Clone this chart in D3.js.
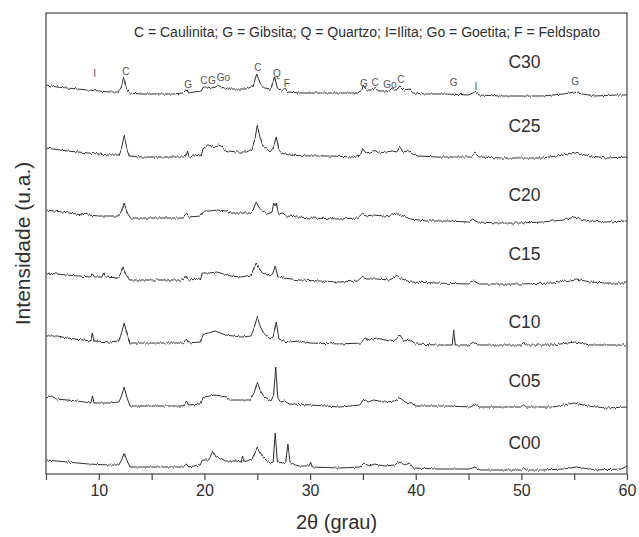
<!DOCTYPE html>
<html><head><meta charset="utf-8">
<script src="https://cdn.jsdelivr.net/npm/d3@7"></script>
<style>body{margin:0;background:#fff}svg{display:block}</style>
</head><body><svg id="chart" width="639" height="537"></svg>
<script>
// ---- data (2θ in degrees, intensity in arbitrary units) ----
const seriesNames = ["C00","C05","C10","C15","C20","C25","C30"];
const seriesOffsets = [0,63,125,186,248,313,374];

const c00 = [[5,14],[6,13],[7,12],[9,10],[11,9],[11.9,9],[12.15,14],[12.4,21],[12.65,14],[12.95,7],[15,7],[18,7],[18.3,10],[18.5,7],[19.6,9],[19.8,14],[20.4,14],[20.8,23],[21.1,17],[21.5,16],[22,13],[23,13],[23.45,12],[23.6,18],[23.75,12],[24.5,15],[24.8,22],[25,27],[25.3,21],[25.6,16],[26.2,11],[26.5,12],[26.7,41],[26.9,12],[27.4,11],[27.7,12],[27.9,30],[28.1,12],[28.6,9],[29,8],[29.9,8],[30.05,12],[30.2,7],[32.8,6],[34.7,7],[35.1,11],[35.6,8],[36.1,10],[37,8],[38,9],[38.4,12],[39,9],[39.4,11],[39.8,6],[42,5],[45.1,5],[45.6,7],[46.1,4],[50,4],[50.2,6],[50.5,4],[52,4],[54,5],[55.2,7],[57,4],[59.5,5],[60,8]];
const c05 = [[5,13],[5.5,15],[6,12],[8,10],[9.25,8],[9.4,15],[9.55,8],[11,8],[11.9,9],[12.15,15],[12.4,24],[12.65,14],[12.95,5],[15,5],[18,5],[18.3,10],[18.5,6],[19.6,7],[19.9,14],[20.5,15],[21,16],[21.6,15],[22.1,14],[22.4,11],[24.3,11],[24.7,18],[25,29],[25.3,20],[25.6,15],[26.3,10],[26.55,16],[26.75,44],[26.95,13],[27.2,9],[27.6,10],[28,7],[30,6],[32.8,4],[34.7,6],[35.1,12],[35.5,9],[36,11],[37,9],[38,10],[38.5,13],[39,9],[39.6,8],[40,5],[43,5],[45.2,4],[45.6,7],[46,4],[50,4],[50.2,6],[50.5,4],[53,4],[55,8],[56.3,5],[58,3],[60,4]];
const c10 = [[5,13],[6.1,13],[7,11],[8.5,9],[9.25,8],[9.4,16],[9.55,8],[11,7],[11.9,8],[12.15,16],[12.4,26],[12.65,16],[12.95,6],[15,6],[18,6],[18.3,10],[18.5,6],[19.6,7],[19.9,15],[20.4,16],[21,18],[21.5,16],[22,14],[23.5,12],[24.4,13],[24.7,21],[25,32],[25.3,22],[25.6,16],[26.2,10],[26.5,12],[26.8,27],[27.05,10],[27.5,8],[28,7],[29,8],[30,6],[32.8,5],[34.8,6],[35.2,11],[35.6,9],[36.3,11],[37.5,8],[38.1,9],[38.5,14],[38.9,8],[39.5,9],[40,5],[42,4],[43.45,4],[43.6,19],[43.75,4],[45,4],[45.5,7],[46,4],[50,4],[50.2,7],[50.4,4],[53,4],[55.1,7],[56.5,4],[60,4]];
const c15 = [[5,15],[7,13],[9.2,11],[9.4,14],[9.6,11],[10.3,11],[10.45,15],[10.6,11],[11.8,10],[12.05,14],[12.3,21],[12.55,14],[12.9,8],[15,8],[18,8],[18.25,12],[18.45,8],[19.6,9],[19.8,15],[20.5,15],[21.2,16],[21.8,14],[22.5,12],[23.5,11],[24.4,13],[24.9,25],[25.2,19],[25.5,15],[26.2,12],[26.45,14],[26.7,22],[26.95,11],[27.5,10],[29,8],[32.8,6],[34.5,7],[34.9,11],[35.3,9],[36.3,9],[37.5,8],[38.3,12],[38.7,9],[39.5,6],[42,5],[45,4],[45.5,7],[46,4],[50,4],[53,5],[55.2,9],[56.5,6],[58,5],[60,5]];
const c20 = [[5,16],[6.5,14],[8.5,11],[8.7,13],[8.9,11],[10,10],[11.8,10],[12.1,14],[12.4,23],[12.7,13],[13,8],[15,8],[18,8],[18.3,12],[18.5,9],[19.6,10],[19.9,15],[20.5,15],[21.2,16],[22.1,15],[22.5,13],[24.3,13],[24.6,16],[24.9,24],[25.2,18],[25.5,15],[26,12],[26.4,14],[26.55,23],[26.7,20],[26.8,23],[27,12],[27.4,13],[27.8,10],[30,8],[32.8,7],[34.5,8],[34.9,12],[35.3,10],[36,11],[37,10],[37.7,11],[38.4,12],[38.8,10],[39.5,7],[41,5],[43,5],[45,4],[45.4,7],[45.8,4],[48,3],[50,3],[52,4],[54,6],[55,9],[55.6,7],[56.5,5],[58,4],[60,5]];
const c25 = [[5,13],[7,10],[9,8],[11,6],[11.9,6],[12.15,13],[12.4,25],[12.65,13],[12.9,5],[14,4],[16,4],[18,4],[18.25,5],[18.4,10],[18.55,4],[19,5],[19.7,6],[19.9,13],[20.1,14],[20.4,17],[20.7,14],[21,15],[21.3,16],[21.6,15],[21.9,11],[22.3,10],[23,9],[24,9],[24.5,12],[24.8,23],[25,36],[25.25,24],[25.5,16],[25.8,13],[26.2,9],[26.5,13],[26.8,24],[27.05,11],[27.3,8],[28,6],[30,5],[32,5],[34,4],[34.8,6],[35,12],[35.3,8],[35.7,9],[36.1,11],[36.5,8],[37.2,9],[37.8,10],[38.2,9],[38.5,14],[38.8,9],[39.3,10],[39.7,7],[40.2,5],[42,4],[44,4],[45.2,4],[45.6,8],[46,4],[48,3],[50,3],[52,3],[54,6],[55.1,9],[56,6],[58,3],[60,4]];
const c30 = [[5,15],[6,13],[7,12],[8,11],[9,10],[10,9],[11,8],[11.8,8],[12.1,12],[12.35,23],[12.6,12],[12.9,7],[14,6],[15,6],[16,6],[17,6],[18,7],[18.3,11],[18.5,7],[19,8],[19.7,9],[19.9,13],[20.3,13],[20.7,12],[21.2,15],[21.6,13],[22.2,11],[23,11],[24,11],[24.6,14],[24.95,26],[25.3,16],[25.7,12],[26.3,11],[26.65,23],[26.9,12],[27.3,9],[27.6,12],[27.9,8],[29,7],[31,7],[33,7],[34.5,7],[34.9,10],[35.05,15],[35.3,10],[35.8,10],[36.1,12],[36.5,9],[37.2,9],[37.8,11],[38.1,9],[38.5,14],[38.9,10],[39.4,11],[39.7,7],[41,6],[43,6],[45,5],[45.6,8],[46,5],[48,4],[50,4],[52,4],[54,6],[55,8],[55.8,6],[57,4],[59,5],[60,5]];
const seriesData = [c00,c05,c10,c15,c20,c25,c30];

const xTickValues = [5,10,15,20,25,30,35,40,45,50,55,60];
const xTickLabels = [10,20,30,40,50,60];
const xTitle = "2θ (grau)";
const yTitle = "Intensidade (u.a.)";
const legendText = "C = Caulinita; G = Gibsita; Q = Quartzo; I=Ilita; Go = Goetita; F = Feldspato";

// phase identification marks on C30 (2θ, intensity level above C30 offset)
const phaseNames = ["I","C","G","C","G","Go","C","Q","F","G","C","Go","C","G","I","G"];
const phaseTheta = [9.6,12.55,18.45,19.95,20.7,21.8,25.05,26.85,27.8,35.1,36.15,37.55,38.6,43.6,45.7,55.1];
const phaseLevel = [27,29,16,20,20,23,33,27,17,17,18,16,21,18,14,19];

// ---- layout ----
const W = 639, H = 537;
const m = {left:46, right:12, top:13, bottom:63};
const svg = d3.select("#chart");
const x = d3.scaleLinear().domain([5,60]).range([m.left, W - m.right]);
const y = d3.scaleLinear().domain([0,461]).range([H - m.bottom, m.top]);
const ink = "#2e2e2e";
const font = "Arial, 'Liberation Sans', Helvetica, sans-serif";

const defs = svg.append("defs");
const flt = defs.append("filter").attr("id","grain").attr("x","-1%").attr("y","-30%")
  .attr("width","102%").attr("height","160%").attr("color-interpolation-filters","sRGB");
flt.append("feTurbulence").attr("type","fractalNoise").attr("baseFrequency","0.7 0.03")
  .attr("numOctaves",1).attr("seed",7).attr("result","n");
flt.append("feColorMatrix").attr("in","n").attr("type","matrix")
  .attr("values","0 0 0 0 0.5  1 0 0 0 0  0 0 0 0 0  0 0 0 0 1").attr("result","m");
flt.append("feDisplacementMap").attr("in","SourceGraphic").attr("in2","m")
  .attr("scale",4).attr("xChannelSelector","R").attr("yChannelSelector","G");

const line = d3.line().x(d => x(d[0])).y(d => y(d[1]));

// traces
const g = svg.append("g");
seriesData.forEach((data, i) => {
  const off = seriesOffsets[i];
  g.append("path")
    .datum(data.map(d => [d[0], d[1] + off]))
    .attr("d", line)
    .attr("fill","none").attr("stroke",ink).attr("stroke-width",1)
    .attr("stroke-linejoin","round")
    .attr("filter","url(#grain)");
});

// sample labels
const labelRise = [31,30,27,34,31,35,38];
seriesNames.forEach((n,i) => {
  svg.append("text").attr("x", x(50.3)).attr("y", y(seriesOffsets[i] + labelRise[i]))
    .attr("text-anchor","middle").attr("dominant-baseline","central")
    .attr("font-family",font).attr("font-size",17.5).attr("fill",ink).text(n);
});

// phase marks on C30
const topOff = seriesOffsets[seriesOffsets.length-1];
phaseNames.forEach((p,i) => {
  svg.append("text").attr("x", x(phaseTheta[i])).attr("y", y(topOff + phaseLevel[i]))
    .attr("text-anchor","middle").attr("dominant-baseline","central")
    .attr("font-family",font).attr("font-size",10).attr("fill","#555").text(p);
});

// legend
svg.append("text").attr("x", 367).attr("y", 32)
  .attr("text-anchor","middle").attr("dominant-baseline","central")
  .attr("font-family",font).attr("font-size",14).attr("fill",ink).text(legendText);

// frame
svg.append("rect").attr("x", x(5)).attr("y", y(461))
  .attr("width", x(60)-x(5)).attr("height", y(0)-y(461))
  .attr("fill","none").attr("stroke","#444").attr("stroke-width",1.2);

// x axis
const xAxis = d3.axisBottom(x).tickValues(xTickValues).tickSize(6).tickPadding(5)
  .tickFormat(d => xTickLabels.includes(d) ? d : "");
const ax = svg.append("g").attr("transform",`translate(0,${y(0)})`).call(xAxis);
ax.select(".domain").remove();
ax.selectAll("line").attr("stroke","#444").attr("stroke-width",1.2);
ax.selectAll("text").attr("font-family",font).attr("font-size",16).attr("fill",ink);

// titles
svg.append("text").attr("x", (x(5)+x(60))/2).attr("y", 522)
  .attr("text-anchor","middle").attr("dominant-baseline","central")
  .attr("font-family",font).attr("font-size",20).attr("fill",ink).text(xTitle);
svg.append("text").attr("transform",`translate(22,${(y(0)+y(461))/2}) rotate(-90)`)
  .attr("text-anchor","middle").attr("dominant-baseline","central")
  .attr("font-family",font).attr("font-size",21).attr("fill",ink).text(yTitle);
</script></body></html>
